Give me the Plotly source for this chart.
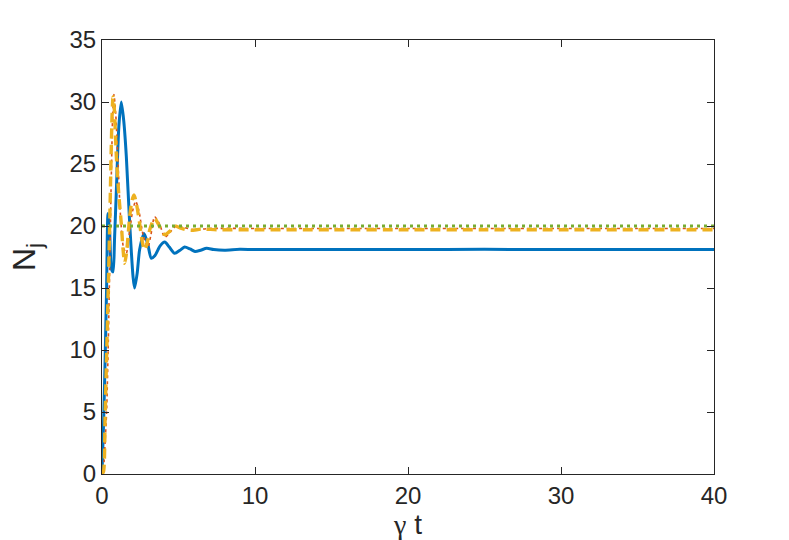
import plotly.graph_objects as go

# Blue solid series
t_blue = [0, 0.1, 0.2, 0.3, 0.39, 0.5, 0.62, 0.72, 0.82, 0.94, 1.1, 1.26, 1.42, 1.59, 1.81, 2.03, 2.13, 2.3, 2.46, 2.75, 3.0, 3.22, 3.45, 3.8, 4.1, 4.4, 4.75, 5.1, 5.4, 5.75, 6.08, 6.45, 6.84, 7.3, 8.0, 9.0, 10, 15, 20, 25, 30, 35, 40]
y_blue = [0, 4.0, 9.0, 15.0, 21.0, 19.5, 16.5, 16.3, 19.0, 22.9, 28.0, 30.0, 28.5, 25.6, 20.2, 15.9, 15.0, 16.2, 18.1, 19.4, 18.5, 17.4, 17.6, 18.4, 18.7, 18.3, 17.8, 18.05, 18.3, 18.15, 17.95, 18.05, 18.2, 18.1, 18.05, 18.12, 18.1, 18.1, 18.1, 18.12, 18.1, 18.1, 18.1]

# Red dotted series
t_red = [0, 0.1, 0.2, 0.3, 0.4, 0.5, 0.6, 0.7, 0.78, 0.9, 1.05, 1.2, 1.4, 1.59, 1.8, 2.0, 2.2, 2.4, 2.7, 3.0, 3.2, 3.44, 3.75, 4.1, 4.45, 4.8, 5.3, 6.0, 7.0, 10, 15, 20, 25, 30, 35, 40]
y_red = [0, 0.5, 2.5, 5.0, 10.0, 16.5, 23.5, 29.0, 30.6, 29.0, 25.0, 21.0, 18.3, 17.8, 19.5, 21.2, 22.0, 21.3, 19.2, 18.3, 19.3, 20.75, 20.2, 19.1, 19.5, 19.95, 19.9, 19.7, 19.8, 19.8, 19.8, 19.8, 19.8, 19.8, 19.8, 19.8]

# Yellow dashed series
t_yel = [0, 0.1, 0.2, 0.3, 0.4, 0.5, 0.6, 0.66, 0.72, 0.8, 0.94, 1.1, 1.26, 1.37, 1.48, 1.6, 1.81, 1.95, 2.09, 2.25, 2.46, 2.62, 2.79, 2.95, 3.12, 3.44, 3.75, 4.1, 4.45, 4.77, 5.2, 5.8, 6.5, 7.5, 10, 15, 20, 25, 30, 35, 40]
y_yel = [0, 0.2, 4.5, 9.5, 14.5, 20.0, 26.0, 29.0, 30.4, 29.5, 25.6, 22.5, 20.2, 18.2, 17.0, 17.8, 20.75, 22.0, 22.5, 21.8, 20.2, 18.8, 18.06, 18.6, 19.7, 20.6, 20.0, 19.3, 19.6, 20.0, 19.8, 19.65, 19.75, 19.7, 19.7, 19.7, 19.7, 19.7, 19.7, 19.7, 19.7]

# Green dotted constant series
t_grn = [0, 40]
y_grn = [20, 20]

x_ticks = [0, 10, 20, 30, 40]
y_ticks = [0, 5, 10, 15, 20, 25, 30, 35]

fig = go.Figure()
fig.add_trace(go.Scatter(x=t_blue, y=y_blue, mode="lines", line=dict(color="#0072BD", width=3, shape="spline", smoothing=0.7)))
fig.add_trace(go.Scatter(x=t_red, y=y_red, mode="lines", line=dict(color="#D95319", width=1.6, dash="dot", shape="spline", smoothing=0.7)))
fig.add_trace(go.Scatter(x=t_yel, y=y_yel, mode="lines", line=dict(color="#EDB120", width=3.4, dash="10px,6px", shape="spline", smoothing=0.7)))
fig.add_trace(go.Scatter(x=t_grn, y=y_grn, mode="lines", line=dict(color="#77AC30", width=2.8, dash="3px,4px")))

FONT = "Liberation Sans, Arial, sans-serif"
axis_common = dict(
    showgrid=False, zeroline=False, showline=True, linecolor="#262626", linewidth=1,
    mirror="ticks", ticks="inside", ticklen=7, tickcolor="#262626", automargin=False,
    tickfont=dict(family=FONT, size=24, color="#262626"),
)

fig.update_layout(
    width=789, height=540,
    margin=dict(l=102, r=75, t=40, b=66),
    paper_bgcolor="white", plot_bgcolor="white",
    showlegend=False,
    xaxis=dict(range=[0, 40], tickvals=x_ticks, ticktext=[str(v) for v in x_ticks],
               title=dict(text="<span style='font-family:Liberation Serif'>γ</span> t",
                          font=dict(family=FONT, size=28, color="#262626"), standoff=0),
               **axis_common),
    yaxis=dict(range=[0, 35], tickvals=y_ticks, ticktext=[str(v) for v in y_ticks],
               title=dict(text="N<sub>j</sub>", font=dict(family=FONT, size=32, color="#262626"), standoff=24),
               **axis_common),
)

fig.write_html("out.html", config={"displayModeBar": False},
               post_script="document.body.style.margin='0';document.body.style.padding='0';")
